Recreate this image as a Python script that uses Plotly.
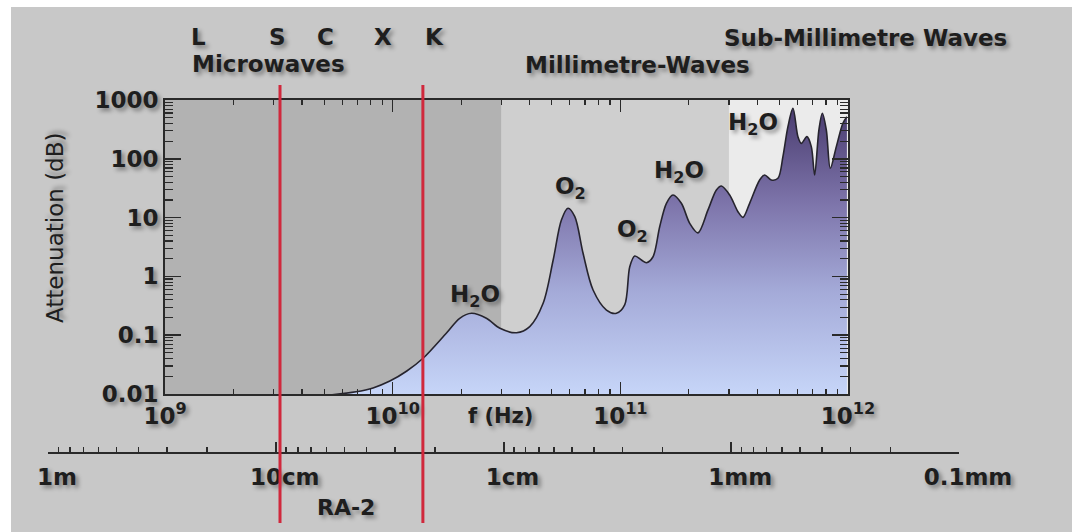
import numpy as np
import plotly.graph_objects as go

W, H = 1072, 532

# ---- data ----
freq_ghz = [5.3, 6.9, 8.2, 9.72, 11.54, 13.6, 17.2, 19.7, 22.2, 25.8,
            29.6, 35.0, 40.0, 45.8, 50.7, 55.1, 58.9, 63.1, 68.6, 75.9,
            86.9, 96.1, 104.5, 110.0, 115.7, 123.8, 130.2, 139.2, 148.9, 159.4,
            170.3, 185.4, 201.7, 219.3, 242.7, 264.2, 277.8, 302.2, 328.6, 345.6,
            369.8, 409.2, 430.4, 460.5, 492.4, 517.8, 544.7, 573.1, 602.7, 623.7,
            660.0, 690.0, 713.4, 745.2, 771.2, 803.1, 836.2, 888.7, 949.7, 989.0]
atten_db = [0.0096, 0.0109, 0.0127, 0.0166, 0.0246, 0.0405, 0.108, 0.194, 0.236, 0.194,
            0.131, 0.110, 0.140, 0.349, 1.90, 9.1, 14.4, 10.4, 2.47, 0.587,
            0.268, 0.236, 0.327, 1.46, 2.22, 1.90, 1.71, 2.16, 7.0, 17.5,
            24.2, 17.5, 8.0, 5.5, 13.5, 29.5, 34.4, 24.2, 12.6, 10.1,
            17.5, 43.6, 53.0, 43.6, 46.6, 108.6, 352.0, 722.0, 238.0, 183.0,
            238.0, 161.0, 53.0, 309.0, 594.0, 309.0, 68.9, 161.0, 402.0, 520.0]

x_tickvals = [1e9, 1e10, 1e11, 1e12]
x_ticktext = ["10<sup>9</sup>", "10<sup>10</sup>", "10<sup>11</sup>", "10<sup>12</sup>"]
y_tickvals = [0.01, 0.1, 1, 10, 100, 1000]
y_ticktext = ["0.01", "0.1", "1", "10", "100", "1000"]

wavelength_m = [1.0, 0.1, 0.01, 0.001, 0.0001]
wavelength_text = ["1m", "10cm", "1cm", "1mm", "0.1mm"]

band_letters = ["L", "S", "C", "X", "K"]
band_freq_hz = [1.41e9, 3.13e9, 5.05e9, 9.06e9, 15.3e9]

region_edges_hz = [1e9, 3e10, 3e11, 1e12]
region_colors = ["#b2b2b2", "#cfcfcf", "#ebebeb"]

ra2_freq_hz = [3.2e9, 13.575e9]

gas_labels = ["H<sub>2</sub>O", "O<sub>2</sub>", "O<sub>2</sub>", "H<sub>2</sub>O", "H<sub>2</sub>O"]
gas_label_freq_hz = [23.0e9, 60.5e9, 113.6e9, 180.9e9, 382e9]
gas_label_db = [0.46, 31.8, 5.9, 58.5, 391]

C = 299792458.0

# ---- style helpers ----
FONT = "DejaVu Sans"
SHADOW = "3px 3px 4px rgba(0,0,0,0.38)"
TXT = "#1e1e1e"
AX = "#2a2a2a"


def px(x):
    return x / W


def py(y):
    return 1 - y / H


def tfont(size, bold=True):
    return dict(family=FONT, size=size, color=TXT, shadow=SHADOW,
                weight="bold" if bold else "normal")


def decade_minors(lo_exp, hi_exp):
    return [k * 10.0 ** d for d in range(lo_exp, hi_exp) for k in range(2, 10)]


fig = go.Figure()

fig.add_trace(go.Scatter(
    x=[f * 1e9 for f in freq_ghz], y=atten_db, mode="lines",
    line=dict(color="#26242e", width=1.6, shape="spline", smoothing=0.9),
    fill="tozeroy",
    fillgradient=dict(type="vertical", start=0.01, stop=1000,
                      colorscale=[[0, "#c6d5f8"], [0.35, "#a4aad8"],
                                  [0.65, "#7d74aa"], [1, "#45376a"]]),
    hoverinfo="skip", showlegend=False,
))

# invisible trace to carry the wavelength axis
fig.add_trace(go.Scatter(
    x=[C / wavelength_m[0], C / wavelength_m[-1]], y=[0.01, 0.01],
    xaxis="x2", yaxis="y", mode="markers", marker=dict(opacity=0),
    hoverinfo="skip", showlegend=False,
))

# minor ticks of the wavelength axis: 2..9 x each decade in wavelength
minor_wl = [C / (k * 10.0 ** d) for d in range(-4, 0) for k in range(2, 10)]

shapes = [
    dict(type="rect", xref="paper", yref="paper", x0=0, x1=1, y0=py(7), y1=1,
         fillcolor="white", line=dict(width=0), layer="below"),
    dict(type="rect", xref="paper", yref="paper", x0=0, x1=px(11), y0=0, y1=1,
         fillcolor="white", line=dict(width=0), layer="below"),
]
# shapes on log axes take data values
for i, col in enumerate(region_colors):
    shapes.append(dict(type="rect", xref="x", yref="y domain",
                       x0=region_edges_hz[i], x1=region_edges_hz[i + 1],
                       y0=0, y1=1, fillcolor=col, line=dict(width=0), layer="below"))
for f in ra2_freq_hz:
    shapes.append(dict(type="line", xref="x", yref="paper",
                       x0=f, x1=f, y0=py(523), y1=py(85),
                       line=dict(color="#d0283c", width=3), layer="above"))

annotations = []
for lab, f in zip(band_letters, band_freq_hz):
    annotations.append(dict(text=lab, xref="x", yref="paper", x=np.log10(f), y=py(37),
                            xanchor="center", yanchor="middle",
                            showarrow=False, font=tfont(23)))
for txt, xx, yy, sz in [("Microwaves", 268, 64, 23), ("Millimetre-Waves", 637, 65, 23),
                        ("Sub-Millimetre Waves", 865, 38, 23), ("f (Hz)", 500, 416, 21),
                        ("RA-2", 346, 507, 22)]:
    annotations.append(dict(text=txt, xref="paper", yref="paper", x=px(xx), y=py(yy),
                            xanchor="center", yanchor="middle",
                            showarrow=False, font=tfont(sz)))
annotations.append(dict(text="Attenuation (dB)", xref="paper", yref="paper", x=px(55), y=py(228),
                        xanchor="center", yanchor="middle",
                        textangle=-90, showarrow=False, font=tfont(23, bold=False)))
for lab, f, a in zip(gas_labels, gas_label_freq_hz, gas_label_db):
    annotations.append(dict(text=lab, xref="x", yref="y", x=np.log10(f), y=np.log10(a),
                            xanchor="center", yanchor="middle",
                            showarrow=False, font=tfont(23)))

tickfont = tfont(23)

fig.update_layout(
    width=W, height=H, margin=dict(l=0, r=0, t=0, b=0, pad=0, autoexpand=False),
    paper_bgcolor="#c8c8c8", plot_bgcolor="rgba(0,0,0,0)", showlegend=False,
    template="none",
    xaxis=dict(type="log", range=[9, 12], domain=[px(165), px(848)], anchor="y",
               automargin=False,
               tickmode="array", tickvals=x_tickvals, ticktext=x_ticktext,
               ticks="inside", ticklen=12, tickwidth=1.5, tickcolor=AX,
               showline=True, linecolor=AX, linewidth=2, mirror="ticks",
               showgrid=False, zeroline=False, tickfont=tickfont, ticklabelstandoff=0,
               minor=dict(tickmode="array", tickvals=decade_minors(9, 12),
                          ticks="inside", ticklen=5, tickwidth=1.2, tickcolor=AX, showgrid=False)),
    yaxis=dict(type="log", range=[-2, 3], domain=[py(394), py(100)], anchor="x",
               automargin=False,
               tickmode="array", tickvals=y_tickvals, ticktext=y_ticktext,
               ticks="inside", ticklen=16, tickwidth=1.5, tickcolor=AX,
               showline=True, linecolor=AX, linewidth=2, mirror="ticks",
               showgrid=False, zeroline=False, tickfont=tickfont,
               minor=dict(tickmode="array", tickvals=decade_minors(-2, 3),
                          ticks="inside", ticklen=8, tickwidth=1.2, tickcolor=AX, showgrid=False)),
    xaxis2=dict(type="log", range=[np.log10(C / wavelength_m[0]), np.log10(C / wavelength_m[-1])],
                domain=[px(48), px(959)], anchor="free", position=py(453),
                automargin=False,
                tickmode="array", tickvals=[C / w for w in wavelength_m], ticktext=wavelength_text,
                ticks="inside", ticklen=10, tickwidth=2, tickcolor=AX,
                showline=True, linecolor=AX, linewidth=2,
                showgrid=False, zeroline=False, tickfont=tickfont,
                ticklabelstandoff=3, ticklabelshift=9,
                minor=dict(tickmode="array", tickvals=minor_wl, ticks="inside", ticklen=5,
                           tickwidth=1.5, tickcolor=AX, showgrid=False)),
    shapes=shapes, annotations=annotations,
)

fig.write_html("out.html", config={"displayModeBar": False, "staticPlot": True},
               post_script="document.body.style.margin='0';document.body.style.overflow='hidden';")
